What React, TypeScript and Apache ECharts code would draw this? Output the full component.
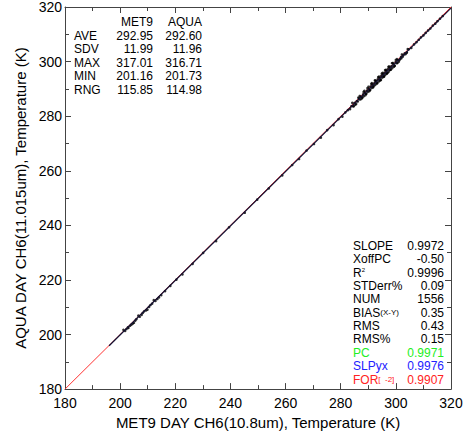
import React, { useEffect, useRef } from "react";
import * as echarts from "echarts";

// ---- data ----
const metX = [
  201.2, 202.3, 203.0, 204.1, 205.0, 205.9, 206.6, 207.8, 208.7, 209.9, 211.0, 212.2, 213.5, 214.9, 216.3, 218.2,
  220.4, 222.6, 226.3, 230.1, 234.8, 239.5, 245.2, 249.7, 253.9, 258.8, 262.4, 264.9, 267.6, 270.3, 272.8, 275.1,
  277.4, 279.2, 280.6, 281.7, 282.6,
  283.4, 283.9, 284.5, 285.0, 285.3, 285.8, 286.2, 286.6, 287.0, 287.3, 287.7, 288.1, 288.4, 288.8, 289.1, 289.5,
  289.8, 290.2, 290.5, 290.9, 291.2, 291.5, 291.9, 292.2, 292.5, 292.8, 293.1, 293.4, 293.8, 294.1, 294.4, 294.7,
  295.0, 295.3, 295.6, 295.9, 296.2, 296.5, 296.8, 297.1, 297.4, 297.7, 298.0, 298.4, 298.7, 299.1, 299.5, 299.9,
  300.3, 300.8, 301.3, 301.9, 302.5, 303.2, 303.9, 304.7, 305.6,
  306.6, 307.5, 308.3, 309.1, 310.0, 310.8, 311.7, 312.5, 313.4, 314.3, 315.1, 316.0, 317.0,
  // extra spread within the dense cluster
  284.2, 285.6, 286.9, 287.9, 288.6, 289.3, 290.1, 290.7, 291.3, 291.8, 292.4, 293.0, 293.6, 294.2, 294.9,
  295.5, 296.1, 296.7, 297.3, 297.9, 298.6, 299.3, 300.0, 300.6, 301.6, 302.2, 303.5, 304.3,
  284.8, 286.4, 287.5, 288.3, 289.0, 289.7, 290.4, 291.1, 291.7, 292.6, 293.3, 293.9, 294.6, 295.2, 295.8,
  296.4, 297.0, 297.6, 298.2, 298.9, 299.6, 300.4, 301.1, 302.0, 302.8, 304.0,
  // extra points in the low segment
  201.8, 202.8, 203.6, 204.6, 205.5, 207.1, 208.2, 209.4, 210.5, 211.6, 212.8, 214.1,
];
const aquaY = [
  201.7, 202.0, 202.4, 203.6, 204.3, 205.6, 206.9, 207.2, 208.5, 209.1, 210.8, 212.6, 213.0, 214.4, 215.9, 217.8,
  220.1, 222.0, 225.9, 229.9, 234.2, 239.3, 244.6, 249.4, 253.5, 258.3, 262.1, 264.3, 267.4, 269.8, 272.1, 274.9,
  276.7, 278.9, 279.8, 281.4, 282.2,
  282.6, 283.7, 283.6, 284.9, 284.2, 285.5, 285.4, 286.5, 286.1, 287.2, 286.9, 288.0, 287.3, 288.6, 288.2, 289.4,
  288.9, 290.0, 289.5, 290.9, 290.3, 291.6, 291.0, 292.1, 291.4, 292.9, 292.3, 293.5, 292.7, 294.0, 293.2, 294.8,
  294.1, 295.4, 294.6, 296.0, 295.2, 296.6, 295.7, 297.2, 296.3, 297.8, 297.0, 298.3, 297.6, 299.1, 298.4, 299.8,
  299.4, 300.5, 300.6, 301.7, 301.8, 303.0, 303.2, 304.5, 305.0,
  306.3, 307.1, 308.0, 308.9, 309.6, 310.5, 311.4, 312.1, 313.2, 313.9, 314.8, 315.7, 316.7,
  284.9, 284.5, 287.4, 286.8, 289.3, 288.2, 290.8, 289.6, 292.1, 290.8, 293.1, 291.9, 294.3, 293.1, 295.6,
  294.4, 296.9, 295.6, 298.1, 296.9, 299.4, 298.1, 300.6, 299.5, 301.0, 302.6, 302.7, 304.6,
  283.7, 286.8, 286.3, 288.9, 287.7, 290.3, 289.2, 291.8, 290.5, 293.0, 292.1, 294.5, 293.3, 295.9, 294.6,
  297.0, 295.9, 298.2, 297.1, 299.5, 298.5, 300.9, 300.0, 301.2, 302.4, 303.4,
  201.3, 202.6, 203.2, 204.0, 205.1, 206.5, 207.9, 208.8, 210.1, 211.3, 212.3, 213.6,
];
const identityX = [180, 320];
const identityY = [180, 320];
const fitX = [196, 320];
const fitY = [195.9, 319.6];

const statLabels = ["AVE", "SDV", "MAX", "MIN", "RNG"];
const met9Stats = ["292.95", "11.99", "317.01", "201.16", "115.85"];
const aquaStats = ["292.60", "11.96", "316.71", "201.73", "114.98"];

const fitLabels = [
  "{t|SLOPE}",
  "{t|XoffPC}",
  "{t|R}{sup|2}",
  "{t|STDerr%}",
  "{t|NUM}",
  "{t|BIAS}{sm|(X-Y)}",
  "{t|RMS}",
  "{t|RMS%}",
  "{t|PC}",
  "{t|SLPyx}",
  "{t|FOR}{sm|[  -2]}",
];
const fitValues = ["0.9972", "-0.50", "0.9996", "0.09", "1556", "0.35", "0.43", "0.15", "0.9971", "0.9976", "0.9907"];
const fitColors = ["#000", "#000", "#000", "#000", "#000", "#000", "#000", "#000", "#22ee22", "#2222ff", "#ff2222"];

const FONT = "'Liberation Sans', Arial, Helvetica, sans-serif";

export default function App() {
  const ref = useRef<HTMLDivElement>(null);
  useEffect(() => {
    if (!ref.current) return;
    const chart = echarts.init(ref.current, undefined, { renderer: "svg" });

    const axisCommon = {
      type: "value" as const,
      min: 180,
      max: 320,
      interval: 20,
      axisLine: { show: true, onZero: false, lineStyle: { color: "#444", width: 1 } },
      axisTick: { show: true, inside: true, length: 6, lineStyle: { color: "#444" } },
      minorTick: { show: true, splitNumber: 2, length: 4, lineStyle: { color: "#444" } },
      splitLine: { show: false },
    };

    const graphics: any[] = [];
    const hdrY = 22;
    const rowH = 13.6;
    graphics.push({ type: "text", x: 153, y: hdrY, style: { text: "MET9", font: `12px ${FONT}`, fill: "#000", align: "right", verticalAlign: "middle" } });
    graphics.push({ type: "text", x: 202, y: hdrY, style: { text: "AQUA", font: `12px ${FONT}`, fill: "#000", align: "right", verticalAlign: "middle" } });
    statLabels.forEach((lab, i) => {
      const y = hdrY + rowH * (i + 1);
      graphics.push({ type: "text", x: 74, y, style: { text: lab, font: `12px ${FONT}`, fill: "#000", align: "left", verticalAlign: "middle" } });
      graphics.push({ type: "text", x: 153, y, style: { text: met9Stats[i], font: `12px ${FONT}`, fill: "#000", align: "right", verticalAlign: "middle" } });
      graphics.push({ type: "text", x: 202, y, style: { text: aquaStats[i], font: `12px ${FONT}`, fill: "#000", align: "right", verticalAlign: "middle" } });
    });
    const fitTop = 246;
    const fitH = 13.35;
    fitLabels.forEach((lab, i) => {
      const y = fitTop + fitH * i;
      const c = fitColors[i];
      graphics.push({
        type: "text",
        x: 353,
        y,
        style: {
          text: lab,
          fill: c,
          align: "left",
          verticalAlign: "middle",
          rich: {
            t: { fontSize: 12, fontFamily: FONT, fill: c, color: c },
            sup: { fontSize: 6, fontFamily: FONT, fill: c, color: c, verticalAlign: "top", padding: [0, 0, 6, 0] },
            sm: { fontSize: 8, fontFamily: FONT, fill: c, color: c },
          },
        },
      });
      graphics.push({ type: "text", x: 444, y, style: { text: fitValues[i], font: `12px ${FONT}`, fill: c, align: "right", verticalAlign: "middle" } });
    });

    chart.setOption({
      animation: false,
      backgroundColor: "#fff",
      textStyle: { fontFamily: FONT },
      grid: { left: 65, right: 15, top: 7, bottom: 44 },
      xAxis: [
        {
          ...axisCommon,
          position: "bottom",
          name: "MET9 DAY CH6(10.8um), Temperature (K)",
          nameLocation: "middle",
          nameGap: 24,
          nameTextStyle: { fontSize: 15, color: "#000", fontFamily: FONT },
          axisLabel: { fontSize: 14, color: "#000", margin: 7, fontFamily: FONT },
        },
        { ...axisCommon, position: "top", axisLabel: { show: false } },
      ],
      yAxis: [
        {
          ...axisCommon,
          position: "left",
          name: "AQUA DAY CH6(11.015um), Temperature (K)",
          nameLocation: "middle",
          nameGap: 37,
          nameTextStyle: { fontSize: 15, color: "#000", fontFamily: FONT },
          axisLabel: { fontSize: 14, color: "#000", margin: 3, fontFamily: FONT },
        },
        { ...axisCommon, position: "right", axisLabel: { show: false } },
      ],
      series: [
        {
          type: "line",
          xAxisIndex: 0,
          yAxisIndex: 0,
          data: identityX.map((x, i) => [x, identityY[i]]),
          symbol: "none",
          lineStyle: { color: "#ff3333", width: 1 },
          z: 1,
        },
        {
          type: "scatter",
          xAxisIndex: 0,
          yAxisIndex: 0,
          data: metX.map((x, i) => [x, aquaY[i]]),
          symbol: "circle",
          symbolSize: 2.6,
          itemStyle: { color: "#000" },
          z: 2,
        },
        {
          type: "line",
          xAxisIndex: 0,
          yAxisIndex: 0,
          data: fitX.map((x, i) => [x, fitY[i]]),
          symbol: "none",
          lineStyle: { color: "#111133", width: 1.2 },
          z: 3,
        },
      ],
      graphic: graphics,
    });
    return () => chart.dispose();
  }, []);
  return <div ref={ref} style={{ width: 466, height: 435, position: "absolute", left: 0, top: 0 }} />;
}
